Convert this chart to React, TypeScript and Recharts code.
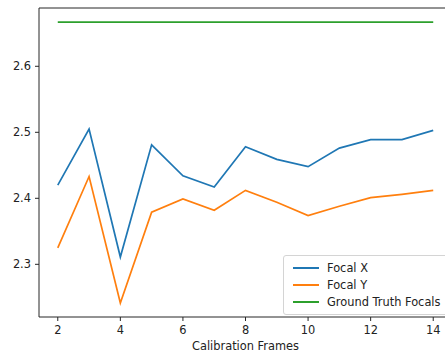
import React from "react";
import {
  LineChart,
  Line,
  XAxis,
  YAxis,
  ReferenceLine,
} from "recharts";

const frames = [2, 3, 4, 5, 6, 7, 8, 9, 10, 11, 12, 13, 14];
const focalX = [2.42, 2.505, 2.311, 2.481, 2.434, 2.417, 2.478, 2.459, 2.448, 2.476, 2.489, 2.489, 2.503];
const focalY = [2.325, 2.433, 2.2415, 2.379, 2.399, 2.382, 2.412, 2.394, 2.374, 2.388, 2.401, 2.406, 2.412];
const groundTruth = [2.667, 2.667, 2.667, 2.667, 2.667, 2.667, 2.667, 2.667, 2.667, 2.667, 2.667, 2.667, 2.667];
const xTicks = [2, 4, 6, 8, 10, 12, 14];
const yTicks = [2.3, 2.4, 2.5, 2.6];

const X_DOMAIN: [number, number] = [1.4, 14.6];
const Y_DOMAIN: [number, number] = [2.2202, 2.6883];

const data = frames.map((f, i) => ({
  frame: f,
  fx: focalX[i],
  fy: focalY[i],
  gt: groundTruth[i],
}));

const series = [
  { key: "fx", name: "Focal X", color: "#1f77b4" },
  { key: "fy", name: "Focal Y", color: "#ff7f0e" },
  { key: "gt", name: "Ground Truth Focals", color: "#2ca02c" },
];

const FONT = "'DejaVu Sans', sans-serif";
const SPINE = "#262626";

// legend drawn as an overlay so it doesn't eat into the plot area
function LegendBox() {
  return (
    <div
      style={{
        position: "absolute",
        left: 283,
        top: 255,
        width: 165,
        boxSizing: "border-box",
        border: "1px solid #d4d4d4",
        borderRadius: 3,
        background: "rgba(255,255,255,0.85)",
        padding: "3px 0 4px 0",
        fontFamily: FONT,
        fontSize: 11.4,
        color: "#222",
      }}
    >
      {series.map((s) => (
        <div key={s.key} style={{ display: "flex", alignItems: "center", height: 17 }}>
          <div
            style={{
              width: 26,
              height: 0,
              borderTop: `2px solid ${s.color}`,
              marginLeft: 9,
              marginRight: 8,
            }}
          />
          <span>{s.name}</span>
        </div>
      ))}
    </div>
  );
}

export default function App() {
  return (
    <div
      style={{
        position: "absolute",
        left: 0,
        top: 0,
        width: 445,
        height: 356,
        overflow: "hidden",
        background: "#fff",
      }}
    >
      <LineChart
        width={460}
        height={356}
        data={data}
        margin={{ top: 8, right: 8, bottom: 0, left: 0 }}
      >
        <XAxis
          dataKey="frame"
          type="number"
          domain={X_DOMAIN}
          ticks={xTicks}
          allowDataOverflow
          height={39}
          tickSize={4}
          tickMargin={5}
          stroke={SPINE}
          tick={{ fontSize: 11.4, fill: "#222", fontFamily: FONT }}
          label={{
            value: "Calibration Frames",
            position: "insideBottom",
            offset: 6,
            style: { fontSize: 11.4, fill: "#222", fontFamily: FONT },
          }}
        />
        <YAxis
          type="number"
          domain={Y_DOMAIN}
          ticks={yTicks}
          allowDataOverflow
          width={39}
          tickSize={4}
          tickMargin={4}
          stroke={SPINE}
          tickFormatter={(v: number) => v.toFixed(1)}
          tick={{ fontSize: 11.4, fill: "#222", fontFamily: FONT }}
        />
        <ReferenceLine y={Y_DOMAIN[1]} stroke={SPINE} />
        <ReferenceLine x={X_DOMAIN[1]} stroke={SPINE} />
        {series.map((s) => (
          <Line
            key={s.key}
            type="linear"
            dataKey={s.key}
            name={s.name}
            stroke={s.color}
            strokeWidth={1.7}
            dot={false}
            activeDot={false}
            isAnimationActive={false}
          />
        ))}
      </LineChart>
      <LegendBox />
    </div>
  );
}
